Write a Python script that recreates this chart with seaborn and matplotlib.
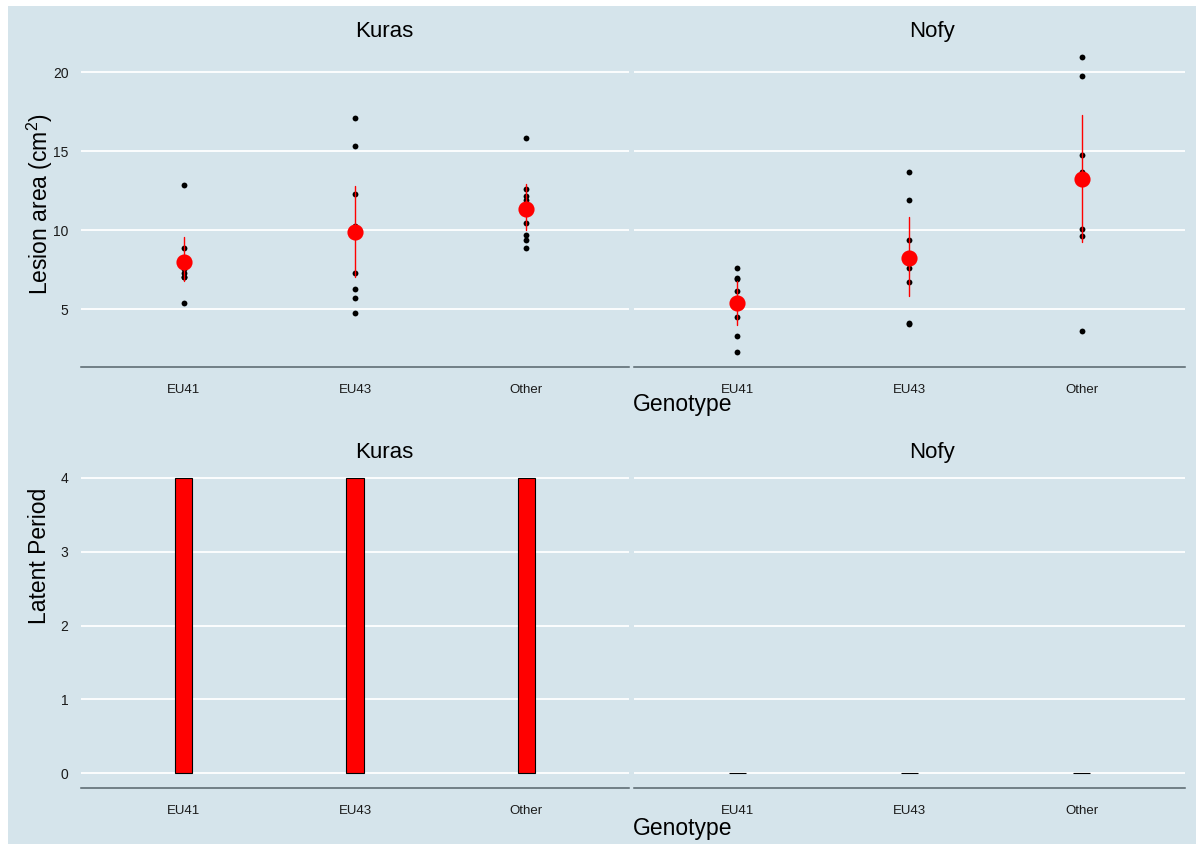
import pandas as pd
import matplotlib.pyplot as plt
import seaborn as sns
from matplotlib.patches import Rectangle

genotypes = ["EU41", "EU43", "Other"]
cultivars = ["Kuras", "Nofy"]

# lesion area (cm^2) per plant
kuras_eu41 = [12.85, 8.86, 7.65, 7.55, 7.3, 7.0, 7.0, 5.36]
kuras_eu43 = [17.07, 15.32, 12.26, 10.27, 7.26, 6.27, 5.68, 4.77]
kuras_other = [15.8, 12.58, 12.15, 11.9, 10.46, 9.68, 9.35, 8.86]
nofy_eu41 = [7.62, 6.94, 6.88, 6.16, 4.47, 3.31, 2.26]
nofy_eu43 = [13.65, 11.92, 9.39, 7.62, 6.69, 4.09, 4.03]
nofy_other = [20.97, 19.73, 14.73, 13.69, 10.04, 9.64, 3.61]

# latent period
latent_kuras = [4, 4, 4]
latent_nofy = [0, 0, 0]

BG = "#d5e4eb"
AXCOL = "#56636a"

lesion = {
    "Kuras": [kuras_eu41, kuras_eu43, kuras_other],
    "Nofy": [nofy_eu41, nofy_eu43, nofy_other],
}
rows = []
for cv in cultivars:
    for g, vals in zip(genotypes, lesion[cv]):
        for v in vals:
            rows.append({"cultivar": cv, "genotype": g, "lesion": v})
df = pd.DataFrame(rows)

latent = pd.DataFrame({
    "cultivar": ["Kuras"] * 3 + ["Nofy"] * 3,
    "genotype": genotypes * 2,
    "latent": latent_kuras + latent_nofy,
})

sns.set_style("white")
plt.rcParams["font.family"] = ["Liberation Sans", "DejaVu Sans"]
plt.rcParams["text.color"] = "black"
plt.rcParams["mathtext.fontset"] = "custom"
plt.rcParams["mathtext.rm"] = "Liberation Sans"
plt.rcParams["mathtext.it"] = "Liberation Sans:italic"

W, H = 1204, 850
fig = plt.figure(figsize=(W / 100, H / 100), dpi=100, facecolor="white")
bg = Rectangle((8 / W, 6 / H), 1188 / W, 838 / H, transform=fig.transFigure,
               facecolor=BG, edgecolor="none", zorder=-10)
fig.patches.append(bg)


def make_ax(x0, x1, y0, y1):
    ax = fig.add_axes([x0 / W, 1 - y1 / H, (x1 - x0) / W, (y1 - y0) / H])
    ax.set_facecolor("none")
    return ax


def style(ax, title, show_y):
    for s in ["top", "right", "left"]:
        ax.spines[s].set_visible(False)
    ax.spines["bottom"].set_color(AXCOL)
    ax.spines["bottom"].set_linewidth(1.1)
    ax.yaxis.grid(True, color="white", linewidth=1.3)
    ax.xaxis.grid(False)
    ax.set_axisbelow(True)
    ax.tick_params(axis="x", direction="in", length=4, width=0.8,
                   color=AXCOL, labelsize=9.5, pad=12, labelcolor="#1a1a1a")
    ax.tick_params(axis="y", length=0, labelsize=10, pad=9,
                   labelleft=show_y, labelcolor="#1a1a1a")
    ax.set_xlim(-0.6, 2.6)
    ax.set_xlabel("")
    ax.set_ylabel("")
    ax.text(0.5, 1.031, title, transform=ax.transAxes, ha="left",
            va="center", fontsize=16)


# lesion area panels
for cv, (x0, x1) in zip(cultivars, [(81, 629), (634, 1185)]):
    ax = make_ax(x0, x1, 42, 367)
    d = df[df["cultivar"] == cv]
    sns.stripplot(data=d, x="genotype", y="lesion", order=genotypes,
                  color="black", size=4.2, jitter=False, linewidth=0, ax=ax)
    sns.pointplot(data=d, x="genotype", y="lesion", order=genotypes,
                  color="red", linestyle="none", marker="o", markersize=9.6,
                  errorbar=("ci", 95), seed=3,
                  err_kws={"linewidth": 1.0, "color": "red", "zorder": 3},
                  ax=ax, zorder=4)
    ax.set_ylim(1.33, 21.9)
    ax.set_yticks([5, 10, 15, 20])
    style(ax, cv, cv == "Kuras")

# latent period panels
for cv, (x0, x1) in zip(cultivars, [(81, 629), (634, 1185)]):
    ax = make_ax(x0, x1, 463, 788)
    d = latent[latent["cultivar"] == cv]
    sns.barplot(data=d, x="genotype", y="latent", order=genotypes,
                color="red", saturation=1, width=0.1, edgecolor="black",
                linewidth=0.8, errorbar=None, ax=ax)
    ax.set_ylim(-0.2, 4.2)
    ax.set_yticks([0, 1, 2, 3, 4])
    style(ax, cv, cv == "Kuras")

fig.text(40 / W, 1 - 204 / H, "Lesion area (cm$^2$)", rotation=90,
         ha="center", va="center", fontsize=16.5)
fig.text(40 / W, 1 - 556 / H, "Latent Period", rotation=90,
         ha="center", va="center", fontsize=16.5)
fig.text(633 / W, 1 - 405 / H, "Genotype", ha="left", va="center",
         fontsize=16.5)
fig.text(633 / W, 1 - 828 / H, "Genotype", ha="left", va="center",
         fontsize=16.5)

fig.savefig("out.png", dpi=100, facecolor="white")
